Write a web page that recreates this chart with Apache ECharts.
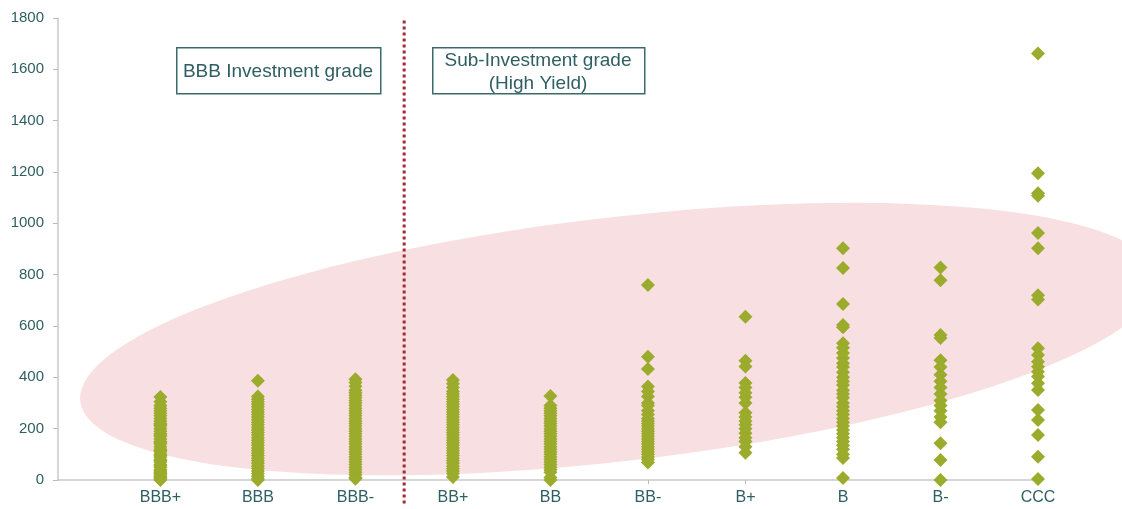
<!DOCTYPE html>
<html>
<head>
<meta charset="utf-8">
<script src="https://cdn.jsdelivr.net/npm/echarts@6/dist/echarts.min.js"></script>
<style>
html,body{margin:0;padding:0;background:#fff;}
#chart{width:1122px;height:509px;}
</style>
</head>
<body>
<div id="chart"></div>
<script>
// ---- data ----
const categories = ['BBB+', 'BBB', 'BBB-', 'BB+', 'BB', 'BB-', 'B+', 'B', 'B-', 'CCC'];
const yTicks = [0, 200, 400, 600, 800, 1000, 1200, 1400, 1600, 1800];

const valsBBBplus = [323, 305, 290, 280, 270, 260, 250, 240, 230, 220, 215, 210, 200, 190, 180, 175, 170, 160, 150, 145, 140, 130, 120, 115, 110, 100, 95, 90, 80, 75, 70, 60, 55, 50, 40, 35, 30, 25, 20, 15, 10, 5, 0];
const valsBBB = [387, 325, 315, 305, 295, 285, 275, 265, 255, 245, 235, 225, 215, 205, 195, 185, 175, 165, 155, 145, 135, 125, 115, 105, 95, 85, 75, 65, 55, 45, 35, 25, 15, 5, 0];
const valsBBBminus = [393, 380, 365, 350, 340, 330, 320, 310, 300, 290, 280, 270, 260, 250, 240, 230, 220, 210, 200, 190, 180, 170, 160, 150, 140, 130, 120, 110, 100, 90, 80, 70, 60, 50, 40, 30, 20, 10, 5];
const valsBBplus = [390, 375, 360, 345, 335, 325, 315, 305, 295, 285, 275, 265, 255, 245, 235, 225, 215, 205, 195, 185, 175, 165, 155, 145, 135, 125, 115, 105, 95, 85, 75, 65, 55, 45, 35, 25, 12];
const valsBB = [327, 290, 280, 270, 260, 250, 240, 230, 220, 210, 200, 190, 180, 170, 160, 150, 140, 130, 120, 110, 100, 90, 80, 70, 60, 50, 40, 30, 10, 0];
const valsBBminus = [760, 480, 432, 364, 345, 325, 300, 290, 270, 255, 240, 230, 220, 210, 200, 190, 180, 170, 160, 150, 140, 130, 120, 110, 100, 90, 80, 68];
const valsBplus = [636, 465, 442, 378, 360, 340, 322, 300, 262, 245, 230, 215, 200, 182, 165, 150, 130, 106];
const valsB = [903, 826, 686, 604, 595, 533, 515, 495, 475, 455, 440, 420, 400, 385, 370, 350, 335, 320, 300, 285, 270, 255, 240, 225, 210, 195, 180, 165, 150, 135, 120, 100, 86, 8];
const valsBminus = [828, 778, 565, 553, 467, 440, 410, 385, 360, 335, 310, 290, 270, 245, 225, 143, 78, 0];
const valsCCC = [1662, 1195, 1117, 1107, 962, 903, 720, 703, 513, 487, 461, 441, 422, 403, 377, 351, 273, 234, 175, 91, 4];

const columnValues = [valsBBBplus, valsBBB, valsBBBminus, valsBBplus, valsBB, valsBBminus, valsBplus, valsB, valsBminus, valsCCC];

const dividerX = 3.5;          // between BBB- and BB+
const ellipseCenter = [5.70, 549];
const boxTexts = ['BBB Investment grade', 'Sub-Investment grade\n(High Yield)'];

// ---- build ----
const scatterData = [];
columnValues.forEach((arr, i) => arr.forEach(v => scatterData.push([i + 1, v])));

const teal = '#2f5f62';
const fontFam = '"Liberation Sans", Arial, sans-serif';
const chart = echarts.init(document.getElementById('chart'), null, {renderer: 'canvas'});

const option = {
  animation: false,
  backgroundColor: '#ffffff',
  grid: {left: 58, right: 84, top: 18, bottom: 29},
  xAxis: {
    type: 'value',
    min: -0.05,
    max: 10,
    splitLine: {show: false},
    axisLine: {show: true, onZero: false, lineStyle: {color: '#c6c9cb', width: 1.5}},
    axisTick: {show: true, length: 4, customValues: categories.map((c, i) => i + 1), lineStyle: {color: '#b8bcbf'}},
    axisLabel: {
      customValues: categories.map((c, i) => i + 1),
      formatter: v => categories[Math.round(v) - 1] || '',
      color: teal, fontFamily: fontFam, fontSize: 16, margin: 10
    }
  },
  yAxis: {
    type: 'value',
    min: yTicks[0],
    max: yTicks[yTicks.length - 1],
    interval: 200,
    splitLine: {show: false},
    axisLine: {show: true, onZero: false, lineStyle: {color: '#c6cbce', width: 1.5}},
    axisTick: {show: true, length: 5, lineStyle: {color: '#b8bcbf'}},
    axisLabel: {
      formatter: v => String(v),
      color: teal, fontFamily: fontFam, fontSize: 15, margin: 14
    }
  },
  series: [
    {
      type: 'custom',
      z: 1,
      clip: false,
      silent: true,
      data: [ellipseCenter],
      renderItem: function (params, api) {
        const c = api.coord([api.value(0), api.value(1)]);
        const a = 542, b = 122;
        return {
          type: 'circle',
          x: c[0], y: c[1],
          rotation: 6.6 * Math.PI / 180,
          scaleY: b / a,
          shape: {cx: 0, cy: 0, r: a},
          style: {fill: '#f8e0e2'}
        };
      }
    },
    {
      type: 'line',
      z: 4,
      clip: false,
      silent: true,
      symbol: 'none',
      data: [[dividerX, 1790], [dividerX, -95]],
      lineStyle: {color: '#a12c37', width: 3, type: [3, 3]}
    },
    {
      type: 'scatter',
      z: 3,
      symbol: 'diamond',
      symbolSize: 14,
      data: scatterData,
      itemStyle: {color: '#9bab2c', opacity: 1}
    }
  ],
  graphic: [
    {type: 'rect', left: 176, top: 47, shape: {width: 204, height: 46}, style: {fill: '#fff', stroke: '#3c6a6b', lineWidth: 1.5}, z: 10},
    {type: 'text', x: 278, y: 72, style: {text: boxTexts[0], fill: teal, font: '19px ' + fontFam, textAlign: 'center', textVerticalAlign: 'middle'}, z: 11},
    {type: 'rect', left: 432, top: 47, shape: {width: 212, height: 46}, style: {fill: '#fff', stroke: '#3c6a6b', lineWidth: 1.5}, z: 10},
    {type: 'text', x: 538, y: 72.5, style: {text: boxTexts[1], fill: teal, font: '19px ' + fontFam, textAlign: 'center', textVerticalAlign: 'middle', lineHeight: 23}, z: 11}
  ]
};
chart.setOption(option);
</script>
</body>
</html>
